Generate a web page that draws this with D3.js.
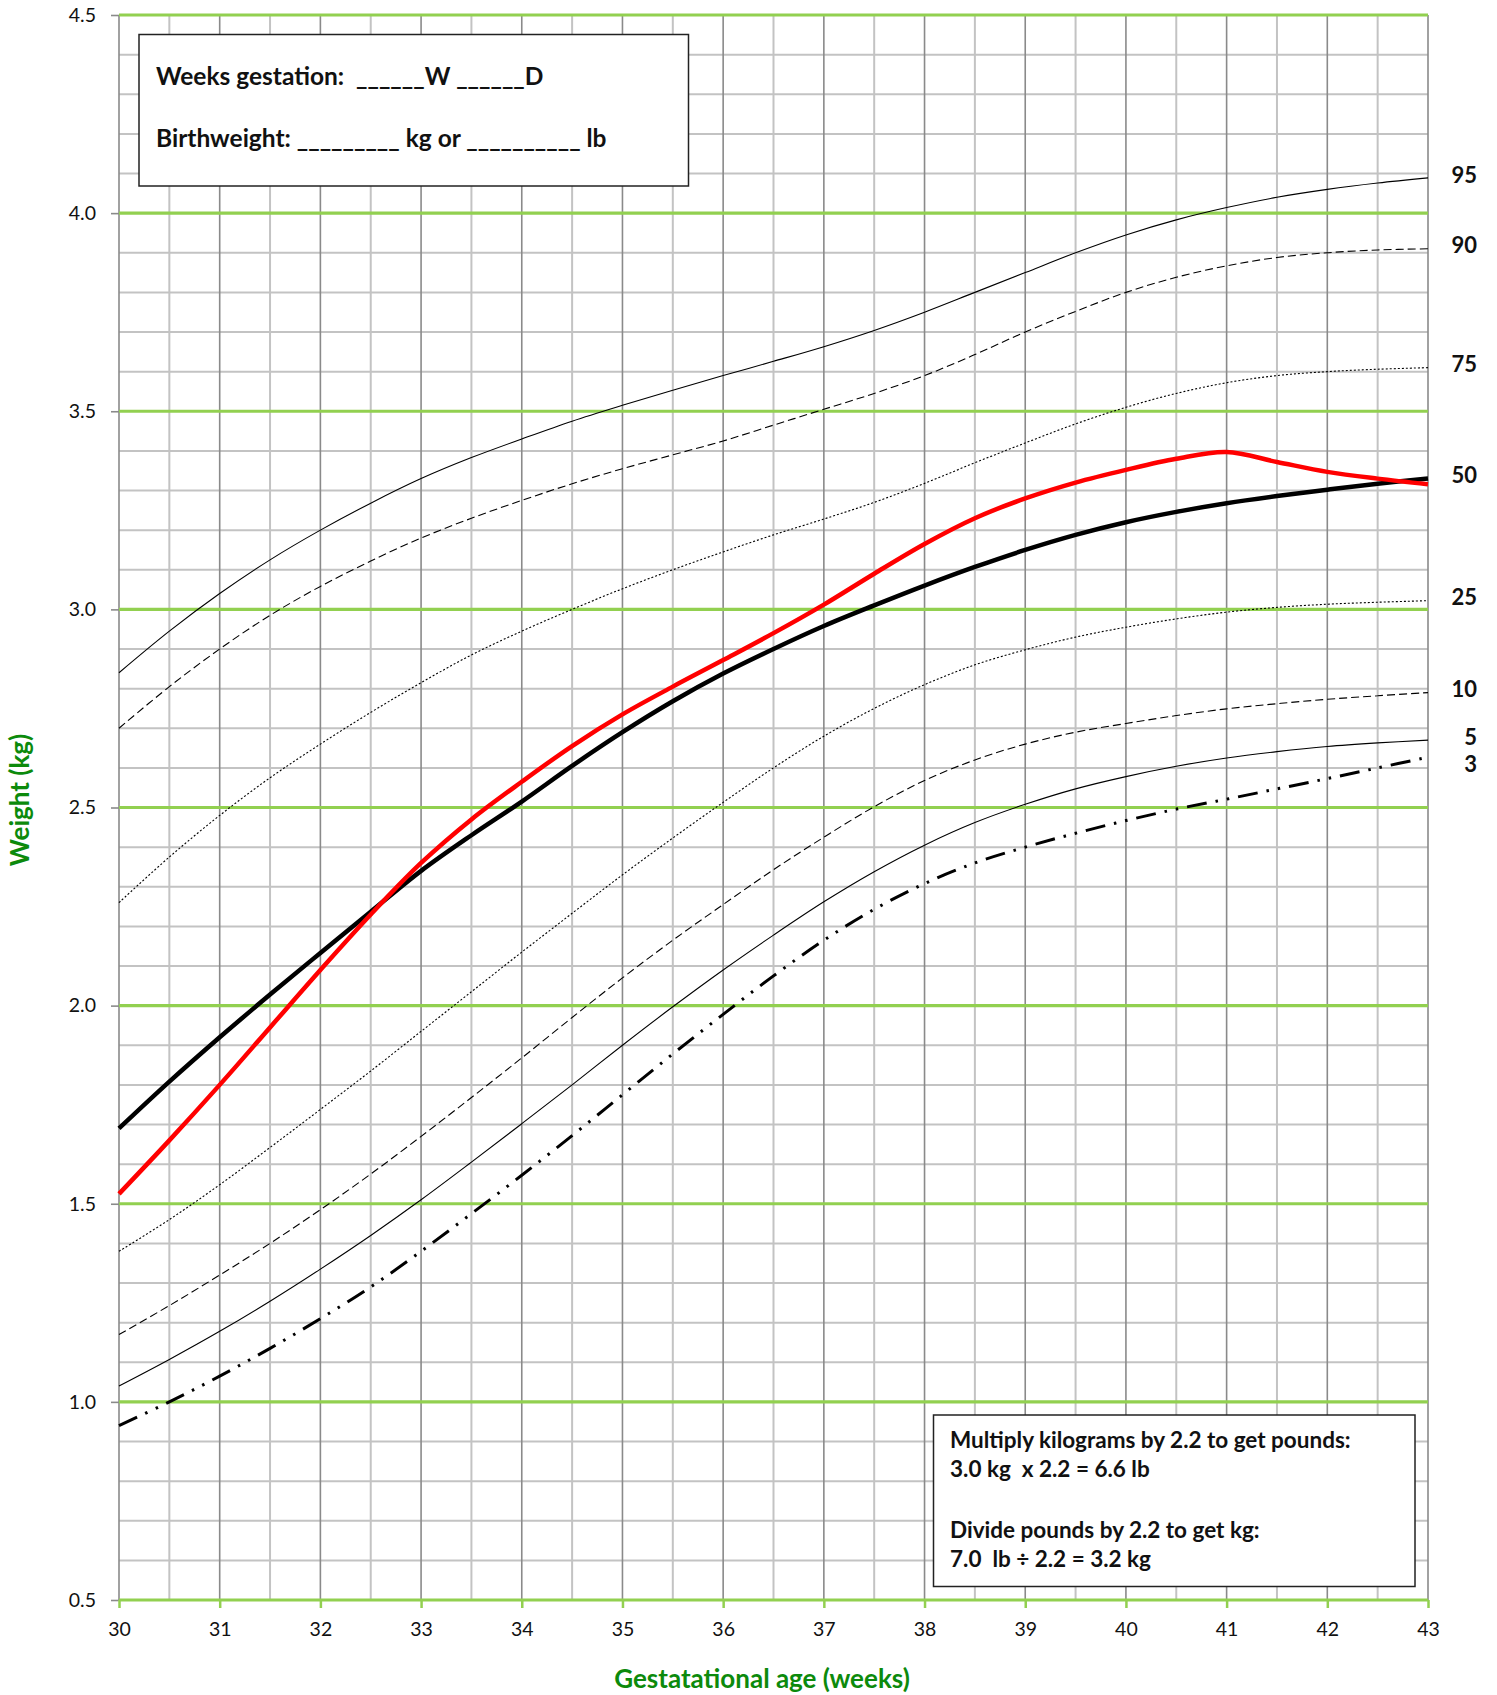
<!DOCTYPE html>
<html>
<head>
<meta charset="utf-8">
<script src="https://cdn.jsdelivr.net/npm/d3@7"></script>
<style>
  body { margin: 0; background: #fff; }
  svg { display: block; font-family: Lato, "Open Sans", sans-serif; }
</style>
</head>
<body>
<div id="d3"></div>
<script>
// gestational age in weeks (x) - half week steps
var weeks = [30, 30.5, 31, 31.5, 32, 32.5, 33, 33.5, 34, 34.5, 35, 35.5, 36, 36.5,
             37, 37.5, 38, 38.5, 39, 39.5, 40, 40.5, 41, 41.5, 42, 42.5, 43];

// percentile curves, weight in kg
var p95 = [2.84, 2.945, 3.04, 3.125, 3.20, 3.268, 3.33, 3.383, 3.43, 3.475, 3.515, 3.553, 3.59, 3.626,
           3.663, 3.704, 3.75, 3.80, 3.85, 3.90, 3.945, 3.983, 4.014, 4.04, 4.06, 4.076, 4.089];
var p90 = [2.70, 2.805, 2.90, 2.985, 3.058, 3.122, 3.18, 3.23, 3.275, 3.317, 3.355, 3.39, 3.425, 3.465,
           3.505, 3.545, 3.59, 3.643, 3.70, 3.752, 3.80, 3.838, 3.867, 3.888, 3.90, 3.907, 3.91];
var p75 = [2.26, 2.375, 2.48, 2.575, 2.66, 2.74, 2.815, 2.885, 2.945, 3.00, 3.052, 3.10, 3.145, 3.188,
           3.228, 3.27, 3.318, 3.37, 3.42, 3.468, 3.51, 3.545, 3.572, 3.59, 3.60, 3.606, 3.61];
var p50 = [1.69, 1.808, 1.92, 2.028, 2.133, 2.237, 2.34, 2.43, 2.515, 2.605, 2.69, 2.768, 2.838, 2.90,
           2.958, 3.01, 3.06, 3.107, 3.15, 3.188, 3.22, 3.246, 3.268, 3.286, 3.302, 3.317, 3.33];
var p25 = [1.38, 1.46, 1.548, 1.642, 1.738, 1.835, 1.935, 2.035, 2.135, 2.233, 2.33, 2.423, 2.513, 2.60,
           2.68, 2.75, 2.81, 2.86, 2.898, 2.93, 2.955, 2.976, 2.993, 3.005, 3.013, 3.018, 3.022];
var p10 = [1.17, 1.243, 1.32, 1.40, 1.485, 1.575, 1.67, 1.768, 1.868, 1.97, 2.07, 2.165, 2.255, 2.343,
           2.425, 2.502, 2.568, 2.62, 2.66, 2.69, 2.712, 2.732, 2.749, 2.762, 2.773, 2.782, 2.79];
var p5  = [1.04, 1.107, 1.178, 1.254, 1.335, 1.42, 1.51, 1.605, 1.702, 1.80, 1.90, 1.997, 2.09, 2.178,
           2.262, 2.338, 2.405, 2.462, 2.508, 2.547, 2.578, 2.604, 2.625, 2.641, 2.654, 2.663, 2.67];
var p3  = [0.94, 1.00, 1.065, 1.135, 1.21, 1.29, 1.38, 1.475, 1.572, 1.672, 1.775, 1.878, 1.978, 2.075,
           2.165, 2.243, 2.308, 2.36, 2.40, 2.435, 2.467, 2.496, 2.521, 2.547, 2.573, 2.60, 2.627];

// plotted baby (red curve)
var baby = [1.525, 1.66, 1.80, 1.945, 2.09, 2.23, 2.36, 2.47, 2.565, 2.655, 2.735, 2.805, 2.872, 2.94,
            3.012, 3.09, 3.165, 3.23, 3.28, 3.32, 3.352, 3.38, 3.397, 3.372, 3.347, 3.33, 3.316];

var xTicks = [30, 31, 32, 33, 34, 35, 36, 37, 38, 39, 40, 41, 42, 43];
var yTicks = [0.5, 1.0, 1.5, 2.0, 2.5, 3.0, 3.5, 4.0, 4.5];

var width = 1497, height = 1695;

var svg = d3.select("#d3").append("svg")
    .attr("width", width)
    .attr("height", height);

var x = d3.scaleLinear().domain([30, 43]).range([119, 1428]);
var y = d3.scaleLinear().domain([0.5, 4.5]).range([1600, 15]);

// grid: light horizontal every 0.1 kg, vertical every half week
var hMinor = d3.range(5, 46).map(function(d) { return d / 10; })
    .filter(function(d) { return Math.round(d * 10) % 5 !== 0; });
var vLines = d3.range(60, 87).map(function(d) { return d / 2; });

svg.append("g").selectAll("line")
    .data(hMinor).enter()
    .append("line")
    .attr("x1", x(30)).attr("x2", x(43))
    .attr("y1", function(d) { return y(d); })
    .attr("y2", function(d) { return y(d); })
    .attr("stroke", "#c3c3c3")
    .attr("stroke-width", 2);

svg.append("g").selectAll("line")
    .data(vLines).enter()
    .append("line")
    .attr("x1", function(d) { return x(d); })
    .attr("x2", function(d) { return x(d); })
    .attr("y1", y(4.5)).attr("y2", y(0.5))
    .attr("stroke", function(d) { return d % 1 === 0 ? "#8a8a8a" : "#c3c3c3"; })
    .attr("stroke-width", function(d) { return d % 1 === 0 ? 1.6 : 2; });

// green lines each half kg
svg.append("g").selectAll("line")
    .data(yTicks).enter()
    .append("line")
    .attr("x1", x(30)).attr("x2", x(43))
    .attr("y1", function(d) { return y(d); })
    .attr("y2", function(d) { return y(d); })
    .attr("stroke", "#92d050")
    .attr("stroke-width", 3.2);

// axes
var yAxis = svg.append("g")
    .attr("transform", "translate(" + x(30) + ",0)")
    .call(d3.axisLeft(y).tickValues(yTicks).tickFormat(d3.format(".1f")).tickSize(8).tickPadding(15));
yAxis.select(".domain").remove();
yAxis.selectAll(".tick line").attr("stroke", "#8a8a8a").attr("stroke-width", 1.6);
yAxis.selectAll(".tick text")
    .attr("font-family", "Lato, sans-serif")
    .attr("font-size", "19.5px")
    .attr("fill", "#111");

var xAxis = svg.append("g")
    .attr("transform", "translate(0," + y(0.5) + ")")
    .call(d3.axisBottom(x).tickValues(xTicks).tickFormat(d3.format("d")).tickSize(8).tickPadding(14));
xAxis.select(".domain").remove();
xAxis.selectAll(".tick line").attr("stroke", "#92d050").attr("stroke-width", 2.5);
xAxis.selectAll(".tick text")
    .attr("font-family", "Lato, sans-serif")
    .attr("font-size", "19.5px")
    .attr("fill", "#111");

// axis titles
svg.append("text")
    .attr("x", 762)
    .attr("y", 1679)
    .attr("dy", "0.35em")
    .attr("text-anchor", "middle")
    .attr("font-size", "26px")
    .attr("font-weight", "bold")
    .attr("fill", "#0c8a0c")
    .text("Gestatational age (weeks)");

svg.append("text")
    .attr("transform", "translate(20,800) rotate(-90)")
    .attr("dy", "0.35em")
    .attr("text-anchor", "middle")
    .attr("font-size", "26px")
    .attr("font-weight", "bold")
    .attr("fill", "#0c8a0c")
    .text("Weight (kg)");

// curves
var series = [
    {label: "95", values: p95, width: 1.1, dash: null},
    {label: "90", values: p90, width: 1.1, dash: "8,4"},
    {label: "75", values: p75, width: 1.1, dash: "2,2"},
    {label: "25", values: p25, width: 1.1, dash: "2,2"},
    {label: "10", values: p10, width: 1.1, dash: "8,4"},
    {label: "5",  values: p5,  width: 1.1, dash: null},
    {label: "3",  values: p3,  width: 3,   dash: "20,9,2.5,9,2.5,9"},
    {label: "50", values: p50, width: 4.5, dash: null}
];

var line = d3.line()
    .x(function(d) { return x(d[0]); })
    .y(function(d) { return y(d[1]); })
    .curve(d3.curveCatmullRom);

svg.append("g").selectAll("path")
    .data(series).enter()
    .append("path")
    .attr("d", function(s) { return line(d3.zip(weeks, s.values)); })
    .attr("fill", "none")
    .attr("stroke", "#000")
    .attr("stroke-width", function(s) { return s.width; })
    .attr("stroke-dasharray", function(s) { return s.dash; });

svg.append("path")
    .attr("d", line(d3.zip(weeks, baby)))
    .attr("fill", "none")
    .attr("stroke", "#ff0000")
    .attr("stroke-width", 4.5);

// percentile labels at the right end, nudged apart when too close
var labs = series.map(function(s) {
    return {label: s.label, y: y(s.values[s.values.length - 1])};
}).sort(function(a, b) { return a.y - b.y; });
for (var i = 1; i < labs.length; i++) {
    if (labs[i].y - labs[i - 1].y < 27) labs[i].y = labs[i - 1].y + 27;
}

svg.append("g").selectAll("text")
    .data(labs).enter()
    .append("text")
    .attr("x", 1477)
    .attr("y", function(d) { return d.y - 3; })
    .attr("dy", "0.35em")
    .attr("text-anchor", "end")
    .attr("font-size", "22px")
    .attr("font-weight", "bold")
    .attr("fill", "#111")
    .text(function(d) { return d.label; });

// info boxes
var box1 = svg.append("g");
box1.append("rect")
    .attr("x", 139).attr("y", 34.5)
    .attr("width", 549.5).attr("height", 151.5)
    .attr("fill", "#fff")
    .attr("stroke", "#222")
    .attr("stroke-width", 1.5);
box1.append("text")
    .attr("x", 156).attr("y", 85)
    .attr("font-size", "24.5px").attr("font-weight", "bold").attr("fill", "#111")
    .attr("xml:space", "preserve")
    .text("Weeks gestation:  ______W ______D");
box1.append("text")
    .attr("x", 156).attr("y", 146.5)
    .attr("font-size", "24.5px").attr("font-weight", "bold").attr("fill", "#111")
    .attr("xml:space", "preserve")
    .text("Birthweight: _________ kg or __________ lb");

var box2 = svg.append("g");
box2.append("rect")
    .attr("x", 933.5).attr("y", 1415)
    .attr("width", 481.5).attr("height", 171.5)
    .attr("fill", "#fff")
    .attr("stroke", "#222")
    .attr("stroke-width", 1.5);
var notes = [
    {t: "Multiply kilograms by 2.2 to get pounds:", y: 1447.5},
    {t: "3.0 kg  x 2.2 = 6.6 lb", y: 1477},
    {t: "Divide pounds by 2.2 to get kg:", y: 1537.5},
    {t: "7.0  lb \u00f7 2.2 = 3.2 kg", y: 1566.5}
];
box2.selectAll("text")
    .data(notes).enter()
    .append("text")
    .attr("x", 950)
    .attr("y", function(d) { return d.y; })
    .attr("font-size", "22.5px").attr("font-weight", "bold").attr("fill", "#111")
    .attr("xml:space", "preserve")
    .text(function(d) { return d.t; });
</script>
</body>
</html>
